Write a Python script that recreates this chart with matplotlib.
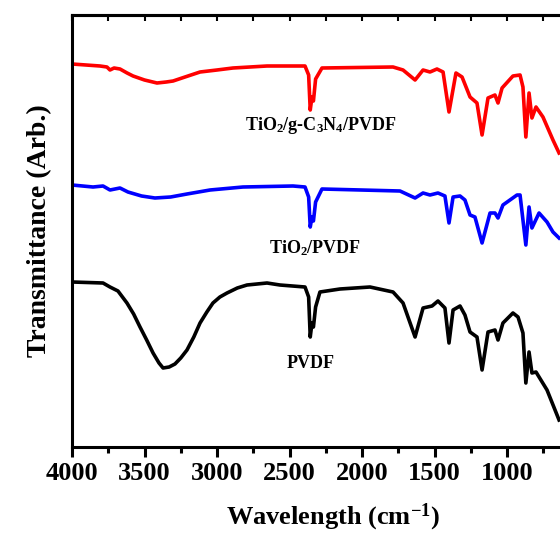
import numpy as np
import matplotlib
matplotlib.use("Agg")
import matplotlib.pyplot as plt
from matplotlib.ticker import MultipleLocator, FixedLocator

# wavenumber (cm-1) and transmittance (arb. units)
wn_pvdf = [4000, 3786, 3738, 3683, 3621, 3575, 3531, 3485, 3441, 3400, 3372, 3330,
           3290, 3250, 3207, 3160, 3117, 3070, 3028, 2980, 2931, 2860, 2793, 2655,
           2566, 2393, 2368, 2357, 2345, 2335, 2320, 2290, 2152,
           1945, 1786, 1717, 1634, 1579, 1517, 1476, 1428, 1400, 1372, 1324, 1290,
           1255, 1207, 1172, 1131, 1083, 1062, 1028, 959, 924, 890, 870, 848, 828,
           800, 724, 641]
t_pvdf = [165, 164, 160, 156, 144, 133, 120, 107, 94, 84, 79, 80,
          83, 89, 97, 110, 124, 135, 144, 150, 154, 159, 162, 164,
          162, 160, 150, 110, 124, 120, 140, 155, 158,
          160, 155, 144, 110, 139, 141, 146, 139, 104, 137, 141, 132,
          115, 110, 77, 115, 117, 107, 124, 134, 130, 114, 64, 95, 74,
          75, 57, 27]

wn_tio2 = [4000, 3855, 3786, 3738, 3669, 3614, 3520, 3428, 3320, 3207, 3048, 2821,
           2476, 2393, 2368, 2357, 2345, 2335, 2320, 2276, 1738, 1634, 1579, 1531,
           1476, 1428, 1400, 1372, 1324, 1290, 1255, 1221, 1172, 1117, 1083, 1062,
           1028, 931, 910, 870, 848, 828, 779, 724, 683, 641]
t_tio2 = [262, 260, 261, 257, 259, 255, 251, 249, 250, 253, 257, 260,
          261, 260, 250, 220, 230, 226, 245, 258, 256, 249, 254, 252,
          254, 251, 224, 250, 251, 247, 232, 230, 204, 234, 234, 229,
          242, 252, 252, 202, 240, 219, 234, 225, 215, 209]

wn_tcn = [4000, 3807, 3759, 3738, 3710, 3669, 3620, 3579, 3500, 3414, 3350, 3303,
          3200, 3117, 3000, 2890, 2655, 2393, 2368, 2357, 2345, 2335, 2320, 2276,
          1786, 1717, 1634, 1579, 1531, 1483, 1441, 1400, 1352, 1310, 1255, 1207,
          1172, 1131, 1083, 1062, 1034, 959, 910, 890, 870, 848, 828, 800, 752,
          683, 641]
t_tcn = [383, 381, 380, 377, 379, 378, 374, 371, 367, 364, 365, 366,
         371, 375, 377, 379, 381, 381, 372, 337, 350, 346, 368, 379,
         380, 377, 367, 377, 375, 378, 375, 335, 374, 370, 350, 344,
         312, 349, 352, 344, 359, 371, 372, 360, 310, 354, 329, 340, 330,
         307, 294]

x_ticks = [4000, 3500, 3000, 2500, 2000, 1500, 1000]

series = [
    (wn_pvdf, t_pvdf, "black", "PVDF", (311, 363)),
    (wn_tio2, t_tio2, "#0000ff", "TiO$_2$/PVDF", (315, 248)),
    (wn_tcn, t_tcn, "#ff0000", "TiO$_2$/g-C$_3$N$_4$/PVDF", (321, 126)),
]

plt.rcParams["font.family"] = ["Liberation Serif", "DejaVu Serif"]
plt.rcParams["font.weight"] = "bold"
plt.rcParams["mathtext.fontset"] = "custom"
plt.rcParams["mathtext.rm"] = "Liberation Serif:bold"
plt.rcParams["mathtext.it"] = "Liberation Serif:bold"
plt.rcParams["mathtext.bf"] = "Liberation Serif:bold"

W, H = 560, 534
fig = plt.figure(figsize=(W / 100, H / 100), dpi=100)
# axes run past the right edge of the picture, as in the reference
ax = fig.add_axes([72 / W, (H - 447) / H, 3600 * 0.145 / W, 432 / H])

for wn, t, color, label, (tx, ty) in series:
    ax.plot(wn, t, color=color, lw=2.6, solid_joinstyle="round")
    fig.text(tx / W, 1 - ty / H, label, ha="center", va="center",
             fontsize=13, fontweight="bold")

ax.set_xlim(4000, 400)
ax.set_ylim(0, 432)
ax.xaxis.set_major_locator(FixedLocator(x_ticks))
ax.xaxis.set_minor_locator(MultipleLocator(250))
ax.tick_params(axis="x", which="major", direction="out", length=7, width=2.2,
               labelsize=19, pad=4)
ax.tick_params(axis="x", which="minor", direction="out", length=4, width=2.2)
ax.tick_params(axis="y", left=False, labelleft=False)

top = ax.secondary_xaxis("top")
top.xaxis.set_major_locator(MultipleLocator(250))
top.tick_params(direction="in", length=4, width=1.5, labeltop=False)

for s in list(ax.spines.values()) + list(top.spines.values()):
    s.set_linewidth(2.2)

ax.set_xlabel("Wavelength (cm$^{-1}$)", fontsize=19, fontweight="bold", labelpad=12)
ax.set_ylabel("Transmittance (Arb.)", fontsize=20, fontweight="bold", labelpad=14)

fig.savefig("out.png", dpi=100)
